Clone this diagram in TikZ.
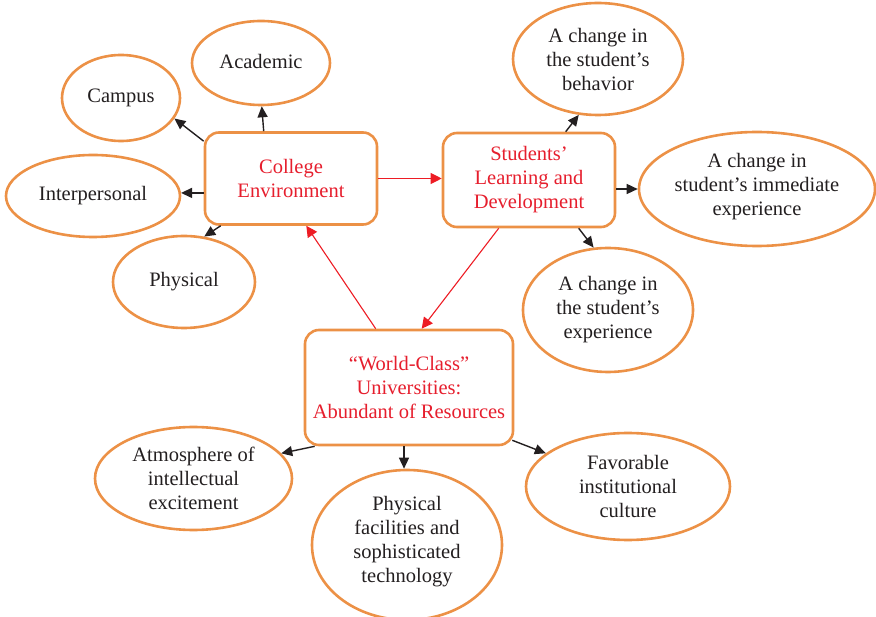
\documentclass[tikz,border=0pt]{standalone}
\usepackage{fontspec}
\setmainfont{Liberation Serif}
\usetikzlibrary{shapes.geometric,arrows.meta}
\definecolor{orng}{RGB}{236,145,70}
\definecolor{redtxt}{RGB}{230,30,45}
\definecolor{redln}{RGB}{237,28,36}
\definecolor{ink}{RGB}{35,31,32}
\begin{document}
\begin{tikzpicture}[x=1pt,y=-1pt,
  every node/.style={font=\fontsize{20.5}{24}\selectfont},
  hub/.style={draw=orng, line width=2.6pt, rounded corners=14pt, rectangle,
    text=redtxt, align=center, inner sep=0pt},
  bub/.style={draw=orng, line width=2.6pt, ellipse, inner sep=0pt},
  txt/.style={text=ink, align=center, inner sep=0pt},
  arr/.style={draw=ink, line width=1.4pt, -{Triangle[length=11pt,width=10pt]}},
  rarr/.style={draw=redln, line width=1.1pt, -{Triangle[length=11pt,width=11pt]}}]
\useasboundingbox (0,0) rectangle (876,617);

% central boxes
\node[hub, minimum width=172pt, minimum height=92pt] (col) at (291,178.5) {College\\Environment};
\node[hub, minimum width=172pt, minimum height=94pt] (stu) at (529,180) {Students'\\Learning and\\Development};
\node[hub, minimum width=208pt, minimum height=115pt] (wor) at (409,387.5) {``World-Class''\\Universities:\\Abundant of Resources};

% surrounding ellipses
\node[bub, minimum width=118pt, minimum height=86pt, label={[txt]center:Campus}] (campus) at (121,98) {};
\node[bub, minimum width=138pt, minimum height=84pt, label={[txt, yshift=2pt]center:Academic}] (acad) at (261,63) {};
\node[bub, minimum width=174pt, minimum height=82pt, label={[txt]center:Interpersonal}] (inter) at (93,196) {};
\node[bub, minimum width=142pt, minimum height=92pt, label={[txt]center:Physical}] (phys) at (184,282) {};
\node[bub, minimum width=170pt, minimum height=112pt, label={[txt]center:A change in\\the student's\\behavior}] (behav) at (598,59) {};
\node[bub, minimum width=236pt, minimum height=114pt, label={[txt, yshift=2pt]center:A change in\\student's immediate\\experience}] (immed) at (757,189) {};
\node[bub, minimum width=170pt, minimum height=124pt, label={[txt]center:A change in\\the student's\\experience}] (exper) at (608,310) {};
\node[bub, minimum width=197pt, minimum height=103pt, label={[txt]center:Atmosphere of\\intellectual\\excitement}] (atmos) at (193.5,478.5) {};
\node[bub, minimum width=190pt, minimum height=150pt, label={[txt, yshift=3pt]center:Physical\\facilities and\\sophisticated\\technology}] (facil) at (407,545) {};
\node[bub, minimum width=204pt, minimum height=107pt, label={[txt]center:Favorable\\institutional\\culture}] (favor) at (628,486.5) {};

% College Environment and its facets
\draw[arr] ([xshift=60pt]col.north west) -- (acad.-89);
\draw[arr] ([yshift=-10pt]col.north west) -- (campus.-21);
\draw[arr] (col.west |- inter.2) -- (inter.2);
\draw[arr] ([xshift=17pt]col.south west) -- (phys.66);

% links between the three boxes
\draw[rarr] (col.east) -- (col.east -| stu.west);
\draw[rarr] ([xshift=57pt]stu.south west) -- ([xshift=118pt]wor.north west);
\draw[rarr] ([xshift=72pt]wor.north west) -- ([xshift=-72pt]col.south east);

% outcomes of learning and development
\draw[arr] ([xshift=124pt]stu.north west) -- (behav.-109);
\draw[arr] (stu.east |- immed.west) -- (immed.west);
\draw[arr] ([xshift=137pt]stu.south west) -- (exper.103);

% resources of world-class universities
\draw[arr] ([xshift=11pt]wor.south west) -- (atmos.16);
\draw[arr] ([xshift=-5pt]wor.south) -- ([xshift=-5pt]wor.south |- facil.north);
\draw[arr] ([xshift=-2pt,yshift=6pt]wor.south east) -- (favor.158);
\end{tikzpicture}
\end{document}
